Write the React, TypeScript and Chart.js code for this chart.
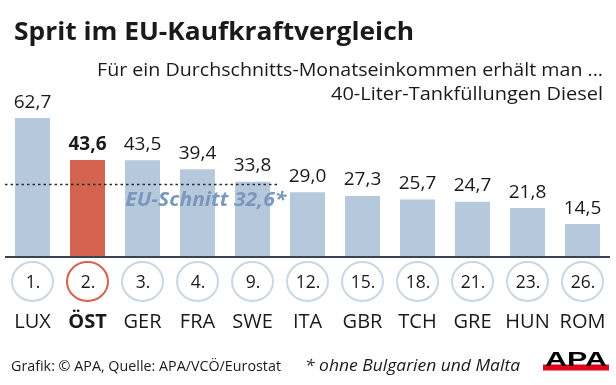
import React, { useEffect, useRef } from "react";
import { Chart, registerables } from "chart.js";

Chart.register(...registerables);

const categories = ["LUX", "ÖST", "GER", "FRA", "SWE", "ITA", "GBR", "TCH", "GRE", "HUN", "ROM"];
const values = [62.7, 43.6, 43.5, 39.4, 33.8, 29.0, 27.3, 25.7, 24.7, 21.8, 14.5];
const ranks = ["1.", "2.", "3.", "4.", "9.", "12.", "15.", "18.", "21.", "23.", "26."];
const highlightIndex = 1;
const euAverage = 32.6;
const euAverageLastIndex = 4;

const TITLE = "Sprit im EU-Kaufkraftvergleich";
const SUB1 = "Für ein Durchschnitts-Monatseinkommen erhält man ...";
const SUB2 = "40-Liter-Tankfüllungen Diesel";
const EU_LABEL = "EU-Schnitt 32,6*";
const SOURCE = "Grafik: © APA, Quelle: APA/VCÖ/Eurostat";
const NOTE = "* ohne Bulgarien und Malta";

const BLUE = "#b6c9dc";
const RED = "#d4634f";
const RING = "#c9d6e3";
const FONT = "'Open Sans', sans-serif";

const fmt = (v: number) => v.toFixed(1).replace(".", ",");

function drawFit(
  ctx: CanvasRenderingContext2D,
  text: string,
  x: number,
  y: number,
  font: string,
  color: string,
  align: "left" | "right" | "center",
  width?: number
) {
  ctx.save();
  ctx.font = font;
  ctx.fillStyle = color;
  ctx.textBaseline = "alphabetic";
  const w = ctx.measureText(text).width;
  const sx = width ? width / w : 1;
  const drawnW = w * sx;
  let left = x;
  if (align === "right") left = x - drawnW;
  if (align === "center") left = x - drawnW / 2;
  ctx.translate(left, y);
  ctx.scale(sx, 1);
  ctx.textAlign = "left";
  ctx.fillText(text, 0, 0);
  ctx.restore();
}

const overlay = {
  id: "overlay",
  afterDatasetsDraw(chart: any) {
    const ctx: CanvasRenderingContext2D = chart.ctx;
    const xs = chart.scales.x;
    const ys = chart.scales.y;
    const area = chart.chartArea;
    const meta = chart.getDatasetMeta(0);

    // Titles
    drawFit(ctx, TITLE, 14, 40, `bold 25px ${FONT}`, "#1a1a1a", "left", 400);
    drawFit(ctx, SUB1, 603, 76, `18px ${FONT}`, "#1a1a1a", "right", 506);
    drawFit(ctx, SUB2, 603, 100, `18px ${FONT}`, "#1a1a1a", "right", 272);

    // EU average dashed line
    const yAvg = ys.getPixelForValue(euAverage);
    const step = xs.getPixelForValue(1) - xs.getPixelForValue(0);
    const x0 = area.left;
    const x1 = xs.getPixelForValue(euAverageLastIndex) + step * 0.45;
    ctx.save();
    ctx.strokeStyle = "#2a2a2a";
    ctx.lineWidth = 1.6;
    ctx.setLineDash([2.5, 3]);
    ctx.beginPath();
    ctx.moveTo(x0, Math.round(yAvg) + 0.5);
    ctx.lineTo(x1, Math.round(yAvg) + 0.5);
    ctx.stroke();
    ctx.restore();
    drawFit(ctx, EU_LABEL, x1 + 9, yAvg + 21.5, `italic bold 19px ${FONT}`, "#7b98bc", "right", 161);

    // Baseline axis
    ctx.save();
    ctx.strokeStyle = "#3a4450";
    ctx.lineWidth = 2;
    ctx.beginPath();
    ctx.moveTo(area.left, ys.getPixelForValue(0) + 1);
    ctx.lineTo(area.right, ys.getPixelForValue(0) + 1);
    ctx.stroke();
    ctx.restore();

    // Value labels, rank circles, category labels
    values.forEach((v, i) => {
      const bar = meta.data[i];
      const cx = bar.x;
      const hi = i === highlightIndex;
      drawFit(ctx, fmt(v), cx, bar.y - 10.5, `${hi ? "bold " : ""}19px ${FONT}`, "#1a1a1a", "center");

      ctx.save();
      ctx.strokeStyle = hi ? RED : RING;
      ctx.lineWidth = 2;
      ctx.beginPath();
      ctx.ellipse(cx, 281.5, 20.5, 19.5, 0, 0, Math.PI * 2);
      ctx.stroke();
      ctx.restore();
      drawFit(ctx, ranks[i], cx + 0.5, 288, `17.5px ${FONT}`, "#1a1a1a", "center");

      drawFit(ctx, categories[i], cx, 328, `${hi ? "bold " : ""}20px ${FONT}`, "#1a1a1a", "center");
    });

    // Footer
    drawFit(ctx, SOURCE, 11, 371, `14.5px ${FONT}`, "#1a1a1a", "left", 270);
    drawFit(ctx, NOTE, 305, 371, `italic 17px ${FONT}`, "#1a1a1a", "left", 215);

    // APA logo
    ctx.save();
    ctx.fillStyle = "#e3001b";
    ctx.fillRect(543, 364.5, 66, 6);
    ctx.restore();
    drawFit(ctx, "APA", 576, 365.5, `900 20px 'Liberation Sans', Arial, sans-serif`, "#000000", "center", 62);
  },
};

export default function App() {
  const ref = useRef<HTMLCanvasElement | null>(null);
  useEffect(() => {
    if (!ref.current) return;
    const chart = new Chart(ref.current, {
      type: "bar",
      data: {
        labels: categories,
        datasets: [
          {
            data: values,
            backgroundColor: values.map((_, i) => (i === highlightIndex ? RED : BLUE)),
            borderWidth: 0,
            barPercentage: 35 / 55,
            categoryPercentage: 1,
          },
        ],
      },
      options: {
        responsive: false,
        animation: false,
        devicePixelRatio: 1,
        layout: { padding: { left: 5, right: 6, top: 102, bottom: 129 } },
        plugins: {
          legend: { display: false },
          tooltip: { enabled: false },
          title: { display: false },
        },
        scales: {
          x: { display: false, offset: true, grid: { display: false } },
          y: { display: false, min: 0, max: 70, grid: { display: false } },
        },
      },
      plugins: [overlay],
    });
    return () => chart.destroy();
  }, []);
  return (
    <div style={{ position: "absolute", left: 0, top: 0, width: 616, height: 385, background: "#fff" }}>
      <canvas ref={ref} width={616} height={385} style={{ display: "block", width: 616, height: 385 }} />
    </div>
  );
}
